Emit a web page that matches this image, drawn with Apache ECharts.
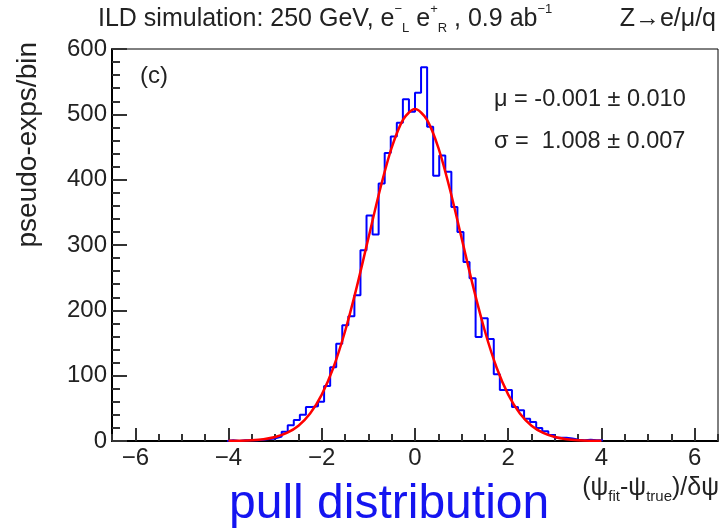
<!DOCTYPE html>
<html>
<head>
<meta charset="utf-8">
<script src="https://cdn.jsdelivr.net/npm/echarts@6/dist/echarts.min.js"></script>
<style>
html,body{margin:0;padding:0;background:#fff;}
#chart{width:721px;height:529px;}
</style>
</head>
<body>
<div id="chart"></div>
<script>
// Histogram definition: 100 bins from -6.5 to 6.5
const binLow = -6.5;
const binWidth = 0.13;
const counts = [
  0,0,0,0,0,0,0,0,0,0, 0,0,0,0,0,0,0,0,
  0,1,0,1,1,1,2,3,4,7,14,24,32,40,52,53,60,84,113,149,177,191,223,292,345,316,394,441,466,487,523,504,
  533,572,481,406,437,412,358,320,274,249,159,188,156,102,78,78,52,47,34,29,20,15,9,5,5,4,2,1,2,1,1,
  0,0,0,0,0,0,0,0,0,0, 0,0,0,0,0,0,0,0,0
];
// Gaussian fit curve
const fitX = [-4,-3.75,-3.5,-3.25,-3,-2.75,-2.5,-2.25,-2,-1.75,-1.5,-1.25,-1,-0.75,-0.5,-0.25,0,
              0.25,0.5,0.75,1,1.25,1.5,1.75,2,2.25,2.5,2.75,3,3.25,3.5,3.75,4];
const fitY = [0.2,0.5,1.2,2.8,6.1,12.3,23.4,42.1,71,112.5,168,235.5,310.5,385,449,492.5,508,
              492.5,449,385,310.5,235.5,168,112.5,71,42.1,23.4,12.3,6.1,2.8,1.2,0.5,0.2];
const xTicks = [-6,-4,-2,0,2,4,6];
const yTicks = [0,100,200,300,400,500,600];

const FONT = "'Liberation Sans', Arial, Helvetica, sans-serif";
const TXT = '#222';

let first = counts.findIndex(v => v > 0);
let last = counts.length - 1 - [...counts].reverse().findIndex(v => v > 0);
const edge = i => +(binLow + binWidth * i).toFixed(4);
const histPts = [[edge(first), 0]];
for (let i = first; i <= last; i++) {
  histPts.push([edge(i), counts[i]], [edge(i + 1), counts[i]]);
}
histPts.push([edge(last + 1), 0]);
const fitPts = fitX.map((x, i) => [x, fitY[i]]);

const chart = echarts.init(document.getElementById('chart'), null, {renderer: 'canvas'});
chart.setOption({
  animation: false,
  backgroundColor: '#fff',
  grid: {left: 112, right: 3, top: 49, bottom: 88, show: true, borderColor: '#000', borderWidth: 1, backgroundColor: 'transparent'},
  xAxis: [{
    type: 'value', min: -6.5, max: 6.5, position: 'bottom', offset: 0,
    axisLine: {show: true, onZero: false, lineStyle: {color: '#000', width: 2}},
    axisTick: {show: true, inside: true, length: 13, customValues: xTicks, lineStyle: {color: '#333', width: 2}},
    axisLabel: {show: true, customValues: xTicks, margin: 5, fontSize: 24, color: TXT, fontFamily: FONT,
      formatter: v => (v < 0 ? '\u2212' + Math.abs(v) : String(v))},
    splitLine: {show: false}
  }, {
    type: 'value', min: -6.5, max: 6.5, interval: 0.5, position: 'bottom', offset: 0,
    axisLine: {show: false},
    axisTick: {show: true, inside: true, length: 7, lineStyle: {color: '#333', width: 2}},
    axisLabel: {show: false},
    splitLine: {show: false}
  }],
  yAxis: {
    type: 'value', min: 0, max: 600, interval: 100,
    axisLine: {show: true, onZero: false, lineStyle: {color: '#000', width: 2}},
    axisTick: {show: true, inside: true, length: 15, lineStyle: {color: '#333', width: 2}},
    minorTick: {show: true, splitNumber: 5, length: 8, lineStyle: {color: '#333', width: 2}},
    axisLabel: {margin: 5, fontSize: 24, color: TXT, fontFamily: FONT,
      customValues: yTicks},
    splitLine: {show: false}
  },
  series: [{
    type: 'line', xAxisIndex: 0, yAxisIndex: 0, data: histPts, symbol: 'none', z: 3,
    lineStyle: {color: '#0000ff', width: 2}
  }, {
    type: 'line', xAxisIndex: 0, yAxisIndex: 0, data: fitPts, symbol: 'none', smooth: 0.3, z: 4,
    lineStyle: {color: '#ff0000', width: 2.5}
  }],
  graphic: [
    {type: 'text', x: 98, y: 19, style: {
      text: 'ILD simulation: 250 GeV, e{sup|\u2212}{sub|L} e{sup|+}{sub|R} , 0.9 ab{sup|\u22121}',
      fontSize: 25, fontFamily: FONT, fill: TXT, verticalAlign: 'middle', lineHeight: 32,
      rich: {
        sup: {fontSize: 13, fontFamily: FONT, fill: TXT, verticalAlign: 'top', lineHeight: 13},
        sub: {fontSize: 13, fontFamily: FONT, fill: TXT, verticalAlign: 'bottom', lineHeight: 13}
      }}},
    {type: 'text', x: 716, y: 19, style: {text: 'Z\u2192e/\u03bc/q', fontSize: 25, fontFamily: FONT, fill: TXT,
      align: 'right', verticalAlign: 'middle'}},
    {type: 'text', x: 28, y: 42, rotation: Math.PI / 2, style: {text: 'pseudo-exps/bin', fontSize: 28, fontFamily: FONT,
      fill: TXT, align: 'right', verticalAlign: 'middle'}},
    {type: 'text', x: 140, y: 76, style: {text: '(c)', fontSize: 24, fontFamily: FONT, fill: TXT, verticalAlign: 'middle'}},
    {type: 'text', x: 494, y: 100, style: {text: '\u03bc = -0.001 \u00b1 0.010', fontSize: 23.5, fontFamily: FONT, fill: TXT, verticalAlign: 'middle'}},
    {type: 'text', x: 494, y: 142, style: {text: '\u03c3 =  1.008 \u00b1 0.007', fontSize: 23.5, fontFamily: FONT, fill: TXT, verticalAlign: 'middle'}},
    {type: 'text', x: 719, y: 488, style: {
      text: '(\u03c8{sub|fit}-\u03c8{sub|true})/\u03b4\u03c8',
      fontSize: 25, fontFamily: FONT, fill: TXT, align: 'right', verticalAlign: 'middle', lineHeight: 32,
      rich: {sub: {fontSize: 15, fontFamily: FONT, fill: TXT, verticalAlign: 'bottom', lineHeight: 14}}}},
    {type: 'text', x: 229, y: 505, style: {text: 'pull distribution', fontSize: 48, fontFamily: FONT, fill: '#1414f0',
      verticalAlign: 'middle'}}
  ]
});
</script>
</body>
</html>
